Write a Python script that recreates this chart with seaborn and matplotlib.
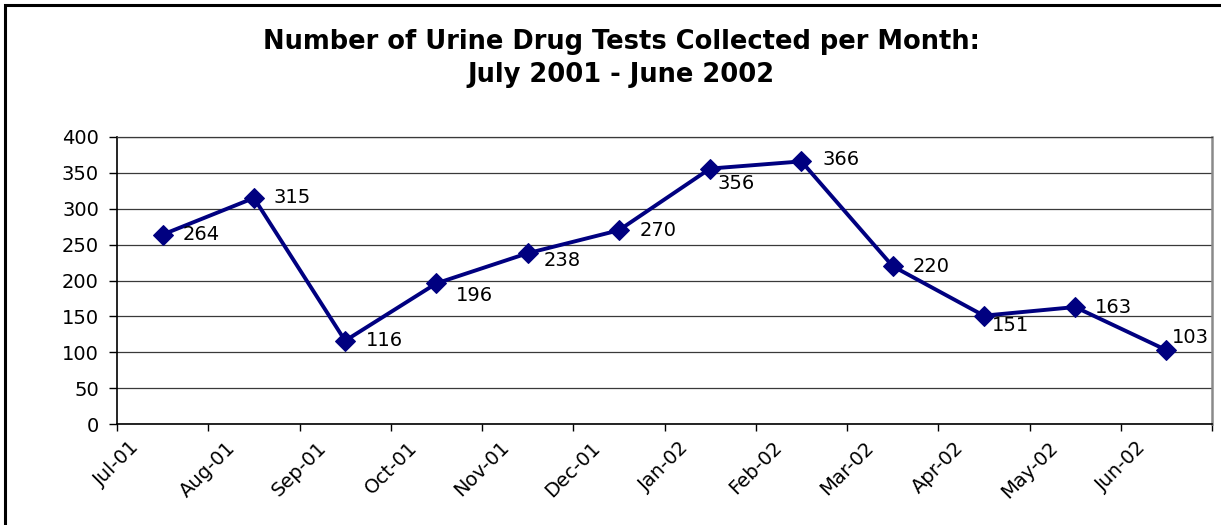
import matplotlib
matplotlib.use("Agg")
import matplotlib.pyplot as plt
import seaborn as sns
import pandas as pd
from matplotlib.patches import Rectangle

months = ["Jul-01", "Aug-01", "Sep-01", "Oct-01", "Nov-01", "Dec-01",
          "Jan-02", "Feb-02", "Mar-02", "Apr-02", "May-02", "Jun-02"]
tests = [264, 315, 116, 196, 238, 270, 356, 366, 220, 151, 163, 103]
y_ticks = [0, 50, 100, 150, 200, 250, 300, 350, 400]

# label placement (pixels right / down from each point) - styling only
label_dx = [20, 20, 21, 19, 16, 21, 7, 21, 20, 8, 20, 6]
label_dy = [0, 0, 0, 12, 7, 0, 15, -2, 0, 10, 0, -13]

sns.set_style("white")
plt.rcParams["font.family"] = ["DejaVu Sans"]
plt.rcParams["text.color"] = "black"
plt.rcParams["xtick.color"] = "black"
plt.rcParams["ytick.color"] = "black"

df = pd.DataFrame({"pos": range(len(months)), "tests": tests})

W, H = 1221, 525
fig = plt.figure(figsize=(W / 100, H / 100), dpi=100)
ax = fig.add_axes([117 / W, 1 - 424 / H, (1212 - 117) / W, (424 - 137) / H])

navy = "#000080"
sns.lineplot(data=df, x="pos", y="tests", ax=ax, color=navy, linewidth=2.8,
             marker="D", markersize=10, markeredgecolor=navy, markerfacecolor=navy)

for i, v in enumerate(tests):
    ax.annotate(str(v), (i, v), xytext=(label_dx[i], -label_dy[i]),
                textcoords="offset pixels", ha="left", va="center",
                fontsize=14, color="black")

ax.set_xlim(-0.5, len(months) - 0.5)
ax.set_ylim(0, 400)
ax.set_yticks(y_ticks)
ax.set_yticklabels([str(t) for t in y_ticks], fontsize=14)

ax.set_xticks([i - 0.5 for i in range(len(months) + 1)])
ax.set_xticklabels(months + [""], fontsize=14, rotation=45, ha="center", va="top")

ax.set_xlabel("")
ax.set_ylabel("")
ax.grid(axis="y", color="#3a3a3a", linewidth=0.9)
ax.grid(axis="x", visible=False)
ax.set_axisbelow(True)

ax.tick_params(axis="y", direction="out", length=6, width=1, pad=7, left=True)
ax.tick_params(axis="x", direction="out", length=5, width=1, pad=5, bottom=True)

for side in ["left", "bottom"]:
    ax.spines[side].set_color("black")
    ax.spines[side].set_linewidth(1.2)
ax.spines["right"].set_color("#8a8a8a")
ax.spines["right"].set_linewidth(1.8)
ax.spines["top"].set_color("#3a3a3a")
ax.spines["top"].set_linewidth(0.9)

fig.text(621 / W, 1 - 42 / H, "Number of Urine Drug Tests Collected per Month:",
         ha="center", va="center", fontsize=18.5, fontweight="bold")
fig.text(621 / W, 1 - 75 / H, "July 2001 - June 2002",
         ha="center", va="center", fontsize=18.5, fontweight="bold")

border = Rectangle((5 / W, -0.1), 1.2, 1.1 - 5 / H, transform=fig.transFigure,
                   fill=False, edgecolor="black", linewidth=2.2, clip_on=False)
fig.patches.append(border)

fig.savefig("out.png", dpi=100)
